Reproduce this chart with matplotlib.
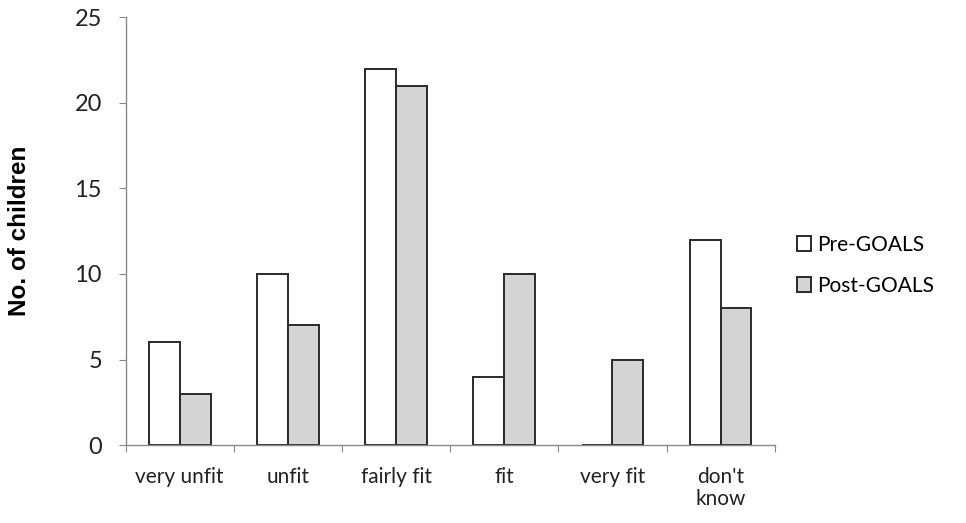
import numpy as np
import matplotlib
matplotlib.use("Agg")
import matplotlib.pyplot as plt

categories = ["very unfit", "unfit", "fairly fit", "fit", "very fit", "don't\nknow"]
pre_goals = [6, 10, 22, 4, 0, 12]
post_goals = [3, 7, 21, 10, 5, 8]

plt.rcParams['font.family'] = ['Lato', 'DejaVu Sans']

fig = plt.figure(figsize=(9.66, 5.23), dpi=100)
ax = fig.add_axes([0.130, 0.149, 0.672, 0.818])

x = np.arange(len(categories))
w = 0.285
edge = "#2a2a2a"
ax.bar(x - w / 2, pre_goals, w, color="white", edgecolor=edge, linewidth=1.4, label="Pre-GOALS")
ax.bar(x + w / 2, post_goals, w, color="#d4d4d4", edgecolor=edge, linewidth=1.4, label="Post-GOALS")

ax.set_xlim(-0.5, len(categories) - 0.5)
ax.set_ylim(0, 25)
ax.set_yticks(range(0, 26, 5))
ax.tick_params(axis="y", labelsize=17, length=5, color="#888888", pad=12, labelcolor="#222222")

# category labels between boundary ticks
ax.set_xticks(np.arange(len(categories) + 1) - 0.5)
ax.set_xticklabels([])
ax.set_xticks(x, minor=True)
ax.set_xticklabels(categories, minor=True, fontsize=15, color="#222222", va="top",
                   linespacing=1.1)
ax.tick_params(axis="x", which="major", length=5, color="#888888")
ax.tick_params(axis="x", which="minor", length=0, pad=16)

for side in ["top", "right"]:
    ax.spines[side].set_visible(False)
for side in ["left", "bottom"]:
    ax.spines[side].set_color("#888888")
    ax.spines[side].set_linewidth(1.0)

ax.set_ylabel("No. of children", fontsize=17.5, fontweight="bold",
              family=["Liberation Sans", "DejaVu Sans"], labelpad=31)

ax.legend(loc="center left", bbox_to_anchor=(1.005, 0.42), frameon=False,
          fontsize=15, handlelength=0.7, handleheight=0.7, handletextpad=0.3,
          labelspacing=1.0)

fig.savefig("out.png", dpi=100)
